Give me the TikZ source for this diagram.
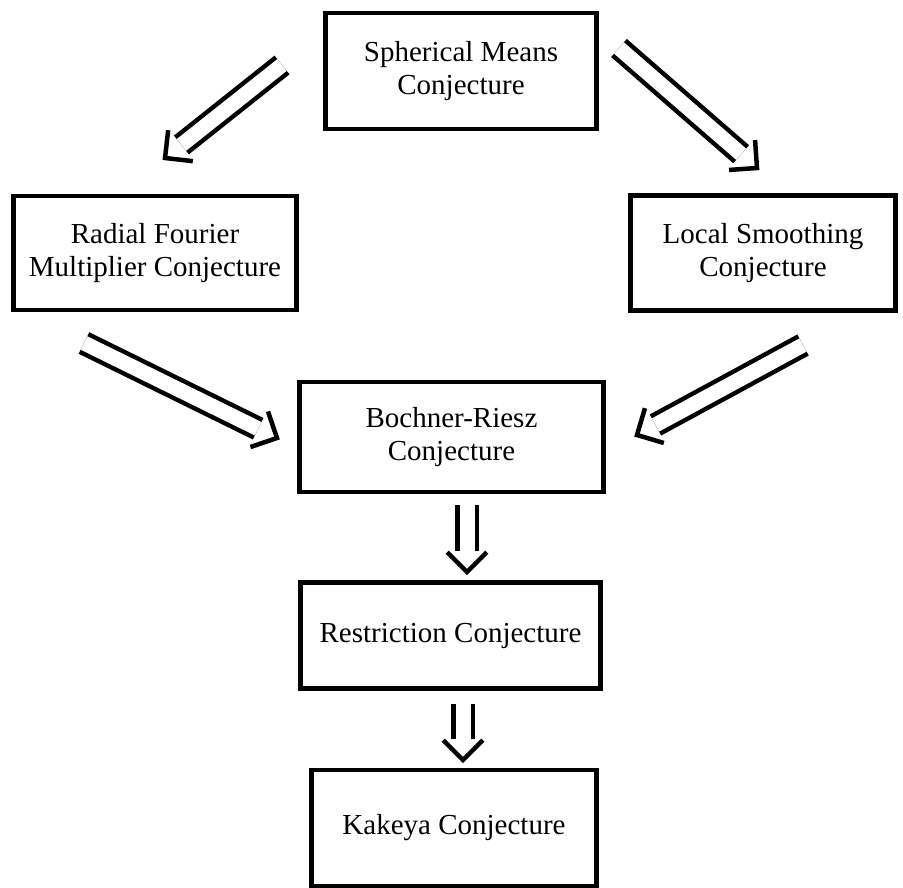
\documentclass[tikz,border=0pt]{standalone}
\usepackage{fontspec}
\setmainfont{Liberation Serif}
\usetikzlibrary{calc}

% double line with an open chevron tip
\newcommand{\implarrow}[2]{%
  \draw[dbl] (#1) -- ($(#2)!21pt!(#1)$);
  \draw[chev] ($(#2)!28pt!45:(#1)$) -- (#2) -- ($(#2)!28pt!-45:(#1)$);
}

\begin{document}
\begin{tikzpicture}[
    x=1pt, y=-1pt,
    box/.style={rectangle, draw, line width=4.5pt, align=center, inner sep=0pt,
        font=\fontsize{29}{33}\selectfont},
    dbl/.style={double, double distance=15pt, line width=4.5pt},
    chev/.style={line width=4.5pt, line join=miter}
]
\useasboundingbox (0,0) rectangle (903,888);

% Conjectures
\node[box, minimum width=271pt, minimum height=116pt] at (461,71) (sph) {Spherical Means\\Conjecture};
\node[box, minimum width=283pt, minimum height=114pt] at (155,253) (rad) {Radial Fourier\\Multiplier Conjecture};
\node[box, minimum width=265pt, minimum height=115pt] at (763,253) (loc) {Local Smoothing\\Conjecture};
\node[box, minimum width=304pt, minimum height=110pt] at (451.5,437) (br) {Bochner-Riesz\\Conjecture};
\node[box, minimum width=300pt, minimum height=106pt] at (450.5,635.5) (res) {Restriction Conjecture};
\node[box, minimum width=285pt, minimum height=116pt] at (454,828) (kak) {Kakeya Conjecture};

% Arrow ends
\coordinate (sph_l) at (282,65);
\coordinate (rad_t) at (165,158);
\coordinate (sph_r) at (619,48);
\coordinate (loc_t) at (757,168);
\coordinate (rad_b) at (84,343);
\coordinate (br_l) at (277,438);
\coordinate (loc_b) at (803,345);
\coordinate (br_r) at (637,435);
\coordinate (br_b) at (467,505);
\coordinate (res_t) at (467,572);
\coordinate (res_b) at (463,704);
\coordinate (kak_t) at (463,760);

% Arrows
\implarrow{sph_l}{rad_t}
\implarrow{sph_r}{loc_t}
\implarrow{rad_b}{br_l}
\implarrow{loc_b}{br_r}
\implarrow{br_b}{res_t}
\implarrow{res_b}{kak_t}

\end{tikzpicture}
\end{document}
